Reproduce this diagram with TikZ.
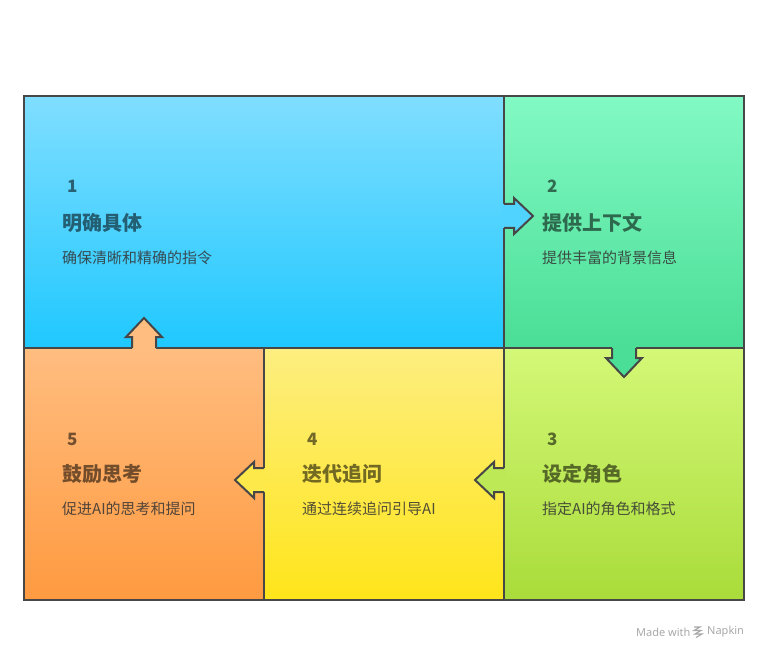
\documentclass[tikz,border=0pt]{standalone}
\usepackage{fontspec}
\setmainfont{Noto Sans CJK SC}
\newfontfamily\wmfont{Noto Sans}
\definecolor{bordc}{HTML}{474747}
\definecolor{txtc}{HTML}{333333}
\definecolor{wmc}{HTML}{A8A8A8}
\definecolor{cAt}{HTML}{80DEFF}\definecolor{cAb}{HTML}{1FC8FF}
\definecolor{cBt}{HTML}{82F9C4}\definecolor{cBb}{HTML}{4ADE96}
\definecolor{cCt}{HTML}{D4F877}\definecolor{cCb}{HTML}{A9DC3A}
\definecolor{cDt}{HTML}{FDEE80}\definecolor{cDb}{HTML}{FFE51A}
\definecolor{cEt}{HTML}{FFBD80}\definecolor{cEb}{HTML}{FF9A40}
\begin{document}
\begin{tikzpicture}[x=1pt,y=-1pt]
\tikzset{
  panelbox/.style={rectangle, inner sep=0, draw=bordc, line width=2pt},
  arrowline/.style={draw=bordc, line width=2pt, line join=miter},
  numtxt/.style={anchor=west, inner sep=0, font=\bfseries\fontsize{17}{17}\selectfont, text=black, text opacity=0.55},
  ttltxt/.style={anchor=west, inner sep=0, font=\bfseries\fontsize{20}{20}\selectfont, text=black, text opacity=0.55},
  subtxt/.style={anchor=west, inner sep=0, font=\fontsize{15}{15}\selectfont, text=txtc, text opacity=0.85},
  wmtxt/.style={anchor=west, inner sep=0, font=\wmfont\fontsize{11}{11}\selectfont, text=wmc},
}
\useasboundingbox (0,0) rectangle (768,660);
% panels
\node[panelbox, minimum width=480pt, minimum height=252pt, top color=cAt, bottom color=cAb] (p1) at (264,222) {};
\node[panelbox, minimum width=240pt, minimum height=252pt, top color=cBt, bottom color=cBb] (p2) at (624,222) {};
\node[panelbox, minimum width=240pt, minimum height=252pt, top color=cCt, bottom color=cCb] (p3) at (624,474) {};
\node[panelbox, minimum width=240pt, minimum height=252pt, top color=cDt, bottom color=cDb] (p4) at (384,474) {};
\node[panelbox, minimum width=240pt, minimum height=252pt, top color=cEt, bottom color=cEb] (p5) at (144,474) {};
% arrow 1 -> 2
\fill[cAt!52!cAb] (502,204)--(514,204)--(514,198)--(533,216)--(514,234)--(514,228)--(502,228)--cycle;
\path[arrowline] (504,204)--(514,204)--(514,198)--(533,216)--(514,234)--(514,228)--(504,228);
% arrow 2 -> 3
\fill[cBb] (612,346)--(612,358)--(606,358)--(624,377)--(642,358)--(636,358)--(636,346)--cycle;
\path[arrowline] (612,348)--(612,358)--(606,358)--(624,377)--(642,358)--(636,358)--(636,348);
% arrow 3 -> 4
\fill[cCt!48!cCb] (506,468)--(494,468)--(494,462)--(475,480)--(494,498)--(494,492)--(506,492)--cycle;
\path[arrowline] (504,468)--(494,468)--(494,462)--(475,480)--(494,498)--(494,492)--(504,492);
% arrow 4 -> 5
\fill[cDt!48!cDb] (266,468)--(254,468)--(254,462)--(235,480)--(254,498)--(254,492)--(266,492)--cycle;
\path[arrowline] (264,468)--(254,468)--(254,462)--(235,480)--(254,498)--(254,492)--(264,492);
% arrow 5 -> 1
\fill[cEt] (132,350)--(132,337)--(126,337)--(144,318)--(162,337)--(156,337)--(156,350)--cycle;
\path[arrowline] (132,348)--(132,337)--(126,337)--(144,318)--(162,337)--(156,337)--(156,348);
% texts
\node[numtxt] (n1) at (67,186) {1};
\node[ttltxt] (t1) at (62,223) {明确具体};
\node[subtxt] (s1) at (62,258) {确保清晰和精确的指令};
\node[numtxt] (n2) at (547,186) {2};
\node[ttltxt] (t2) at (542,223) {提供上下文};
\node[subtxt] (s2) at (542,258) {提供丰富的背景信息};
\node[numtxt] (n3) at (547,439) {3};
\node[ttltxt] (t3) at (542,474) {设定角色};
\node[subtxt] (s3) at (542,509) {指定AI的角色和格式};
\node[numtxt] (n4) at (307,439) {4};
\node[ttltxt] (t4) at (302,474) {迭代追问};
\node[subtxt] (s4) at (302,509) {通过连续追问引导AI};
\node[numtxt] (n5) at (67,439) {5};
\node[ttltxt] (t5) at (62,474) {鼓励思考};
\node[subtxt] (s5) at (62,509) {促进AI的思考和提问};
% watermark
\node[wmtxt] (wm1) at (636,632) {Made with};
\draw[wmc, line width=1.1pt] (694,627)--(700,627)--(694,630.5)--(701,630.5)--(695,634)--(702,634)--(696,637.5);
\node[wmtxt] (wm2) at (707,632) {Napkin};
\end{tikzpicture}
\end{document}
